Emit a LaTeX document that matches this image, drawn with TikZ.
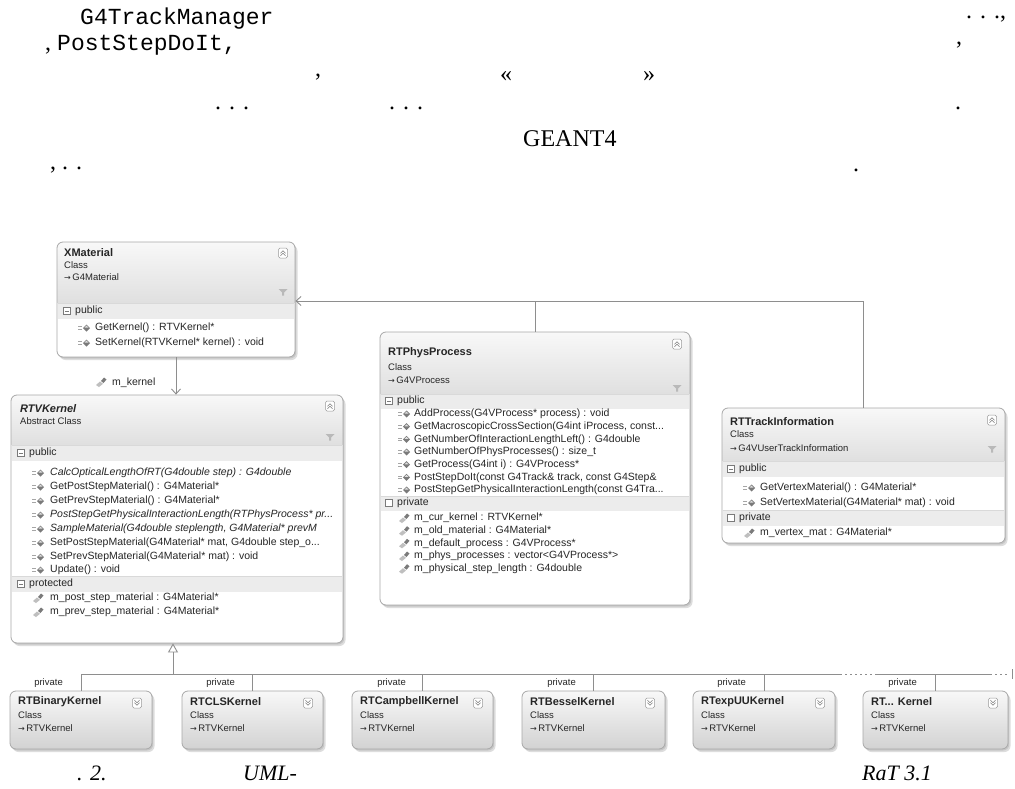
\documentclass[tikz,border=0pt]{standalone}
\usepackage{fontspec}
\setmainfont{Liberation Serif}
\setmonofont{Liberation Mono}
\newfontfamily\umlfont{Liberation Sans}
\newfontfamily\symfont{DejaVu Sans}
\usetikzlibrary{arrows.meta,fit}

\definecolor{bordergray}{HTML}{A8A8A8}
\definecolor{linegray}{HTML}{8E8E8E}
\definecolor{hdrtop}{HTML}{F8F8F8}
\definecolor{hdrbot}{HTML}{E0E0E0}
\definecolor{bandgray}{HTML}{ECECEC}
\definecolor{txt}{HTML}{262626}
\definecolor{shadowgray}{HTML}{C6C6C6}
\definecolor{leaftop}{HTML}{F8F8F8}
\definecolor{leafbot}{HTML}{D2D2D2}
\definecolor{icongray}{HTML}{7A7A7A}

\tikzset{
  conn/.style={draw=linegray, line width=0.9pt},
  utitle/.style={font=\umlfont\bfseries\fontsize{11}{13}\selectfont, text=txt, anchor=west, inner sep=0pt},
  utitleit/.style={font=\umlfont\bfseries\itshape\fontsize{11}{13}\selectfont, text=txt, anchor=west, inner sep=0pt},
  utext/.style={font=\umlfont\fontsize{10.5}{12}\selectfont, text=txt, anchor=west, inner sep=0pt},
  utextit/.style={font=\umlfont\itshape\fontsize{10.5}{12}\selectfont, text=txt, anchor=west, inner sep=0pt},
  usmall/.style={font=\umlfont\fontsize{9.5}{11}\selectfont, text=txt, anchor=west, inner sep=0pt},
  bodytext/.style={font=\fontsize{24}{28}\selectfont, anchor=west, inner sep=0pt, text=black},
  bodymono/.style={font=\ttfamily\fontsize{23}{28}\selectfont, anchor=west, inner sep=0pt, text=black},
  captext/.style={font=\itshape\fontsize{22}{26}\selectfont, anchor=west, inner sep=0pt, text=black},
}

\newcommand\inh{{\symfont\fontsize{8}{9}\selectfont\char"2192}\,}

% name, x1, y1, x2, y2, header bottom
\newcommand\umlclass[6]{%
  \fill[shadowgray!60, rounded corners=6pt] ({#2+2.5},{#3+3}) rectangle ({#4+2.5},{#5+3});
  \fill[shadowgray, rounded corners=6pt] ({#2+1.2},{#3+1.5}) rectangle ({#4+1.2},{#5+1.5});
  \begin{scope}
    \clip[rounded corners=6pt] (#2,#3) rectangle (#4,#5);
    \fill[white] (#2,#3) rectangle (#4,#5);
    \shade[top color=hdrtop, bottom color=hdrbot] (#2,#3) rectangle (#4,#6);
  \end{scope}
  \node[fit={(#2,#3) (#4,#5)}, inner sep=0pt, draw=bordergray, rounded corners=6pt, line width=0.8pt] (#1) {};
}
% name, x1, y1, x2, y2
\newcommand\umlleaf[5]{%
  \fill[shadowgray!60, rounded corners=6pt] ({#2+2.5},{#3+3}) rectangle ({#4+2.5},{#5+3});
  \fill[shadowgray, rounded corners=6pt] ({#2+1.2},{#3+1.5}) rectangle ({#4+1.2},{#5+1.5});
  \shade[top color=leaftop, bottom color=leafbot, rounded corners=6pt] (#2,#3) rectangle (#4,#5);
  \node[fit={(#2,#3) (#4,#5)}, inner sep=0pt, draw=bordergray, rounded corners=6pt, line width=0.8pt] (#1) {};
}
% x1, x2, y1, y2
\newcommand\umlband[4]{%
  \fill[bandgray] ({#1+0.8},#3) rectangle ({#2-0.8},#4);
  \draw[white!85!black, line width=0.4pt] ({#1+0.8},#3) -- ({#2-0.8},#3);
}
% section toggle: x, y, with minus (1) or not (0)
\newcommand\sectoggle[3]{%
  \draw[icongray, line width=0.5pt, fill=white] ({#1-3.5},{#2-3.5}) rectangle ({#1+3.5},{#2+3.5});
  \ifnum#3=1 \draw[icongray, line width=0.6pt] ({#1-2},#2) -- ({#1+2},#2);\fi
}
% method icon: left x, centre y
\newcommand\mthicon[2]{%
  \draw[gray!70, line width=0.6pt] (#1,{#2-1.3}) -- ({#1+4},{#2-1.3}) (#1,{#2+1.3}) -- ({#1+4},{#2+1.3});
  \fill[icongray] ({#1+5},#2) -- ({#1+8.5},{#2-3.5}) -- ({#1+12},#2) -- ({#1+8.5},{#2+3.5}) -- cycle;
  \fill[gray!25] ({#1+6.5},{#2-0.4}) -- ({#1+8.5},{#2-2.4}) -- ({#1+10.5},{#2-0.4}) -- cycle;
}
% field icon: left x, centre y
\newcommand\fldicon[2]{%
  \fill[gray!50] (#1,{#2+3}) -- ({#1+4},{#2-0.5}) -- ({#1+7},{#2+1.8}) -- ({#1+3},{#2+5}) -- cycle;
  \fill[icongray] ({#1+5},{#2-1}) -- ({#1+8},{#2-4.5}) -- ({#1+10.5},{#2-2.5}) -- ({#1+7.5},{#2+1}) -- cycle;
}
% collapse / expand icon: x, y, direction (1 up, -1 down)
\newcommand\collicon[3]{%
  \draw[gray!80, line width=0.5pt, rounded corners=1.5pt, fill=white] ({#1-4.5},{#2-5}) rectangle ({#1+4.5},{#2+5});
  \draw[icongray, line width=0.6pt] ({#1-2.5},{#2+(#3)*0.3}) -- (#1,{#2-(#3)*2.2}) -- ({#1+2.5},{#2+(#3)*0.3})
        ({#1-2.5},{#2+(#3)*2.8}) -- (#1,{#2+(#3)*0.3}) -- ({#1+2.5},{#2+(#3)*2.8});
}
% filter icon: x, y
\newcommand\filticon[2]{%
  \fill[gray!55] ({#1-4.5},{#2-3}) -- ({#1+4.5},{#2-3}) -- ({#1+1},{#2+0.5}) -- ({#1+1},{#2+3.5}) -- ({#1-1},{#2+3.5}) -- ({#1-1},{#2+0.5}) -- cycle;
}

\begin{document}
\begin{tikzpicture}[x=1pt,y=-1pt]
\useasboundingbox (0,0) rectangle (1015,789);
\fill[white] (0,0) rectangle (1015,789);

% ---------------- running text ----------------
\node[bodymono] (t1a) at (80,19) {G4TrackManager};
\node[bodytext] (t1b) at (966,19) {. . .,};
\node[bodytext] (t2a) at (45,45) {, {\ttfamily\fontsize{23}{28}\selectfont PostStepDoIt,}};
\node[bodytext] (t2b) at (956,45) {,};
\node[bodytext] (t3a) at (315,77) {,};
\node[bodytext] (t3b) at (500,77) {«};
\node[bodytext] (t3c) at (643,77) {»};
\node[bodytext] (t4a) at (215,108) {. . .};
\node[bodytext] (t4b) at (389,108) {. . .};
\node[bodytext] (t4c) at (955,108) {.};
\node[bodytext] (t5a) at (523,139) {GEANT4};
\node[bodytext] (t6a) at (50,170) {, . .};
\node[bodytext] (t6b) at (853,170) {.};

% ---------------- XMaterial ----------------
\umlclass{xmat}{57}{242}{295}{357}{302}
\umlband{57}{295}{303}{319}
\node[utitle] (xmatT) at (64,253) {XMaterial};
\node[usmall] (xmatS) at (64,265) {Class};
\node[usmall] (xmatB) at (64,277) {\inh G4Material};
\collicon{283}{253}{1}
\filticon{283}{292}
\sectoggle{67}{311}{1}
\node[utext] (xmatP) at (75,311) {public};
\mthicon{78}{328}
\node[utext] (xm1) at (95,328) {GetKernel() : RTVKernel*};
\mthicon{78}{343}
\node[utext] (xm2) at (95,343) {SetKernel(RTVKernel* kernel) : void};

% ---------------- RTVKernel ----------------
\umlclass{kern}{11}{395}{343}{643}{444}
\umlband{11}{343}{445}{461}
\umlband{11}{343}{576}{592}
\node[utitleit] (kernT) at (20,409) {RTVKernel};
\node[usmall] (kernS) at (20,421) {Abstract Class};
\collicon{330}{406}{1}
\filticon{330}{437}
\sectoggle{21}{453}{1}
\node[utext] (kernP) at (29,453) {public};
\mthicon{32}{473}\node[utextit] (km1) at (50,473) {CalcOpticalLengthOfRT(G4double step) : G4double};
\mthicon{32}{487}\node[utext] (km2) at (50,487) {GetPostStepMaterial() : G4Material*};
\mthicon{32}{501}\node[utext] (km3) at (50,501) {GetPrevStepMaterial() : G4Material*};
\mthicon{32}{515}\node[utextit] (km4) at (50,515) {PostStepGetPhysicalInteractionLength(RTPhysProcess* pr...};
\mthicon{32}{529}\node[utextit] (km5) at (50,529) {SampleMaterial(G4double steplength, G4Material* prevM};
\mthicon{32}{543}\node[utext] (km6) at (50,543) {SetPostStepMaterial(G4Material* mat, G4double step\_o...};
\mthicon{32}{557}\node[utext] (km7) at (50,557) {SetPrevStepMaterial(G4Material* mat) : void};
\mthicon{32}{570}\node[utext] (km8) at (50,570) {Update() : void};
\sectoggle{21}{584}{1}
\node[utext] (kernQ) at (29,584) {protected};
\fldicon{33}{598}\node[utext] (kf1) at (50,598) {m\_post\_step\_material : G4Material*};
\fldicon{33}{612}\node[utext] (kf2) at (50,612) {m\_prev\_step\_material : G4Material*};

% ---------------- RTPhysProcess ----------------
\umlclass{phys}{380}{332}{690}{605}{393}
\umlband{380}{690}{394}{409}
\umlband{380}{690}{496}{511}
\node[utitle] (physT) at (388,353) {RTPhysProcess};
\node[usmall] (physS) at (388,367) {Class};
\node[usmall] (physB) at (388,380) {\inh G4VProcess};
\collicon{677}{344}{1}
\filticon{677}{388}
\sectoggle{389}{401}{1}
\node[utext] (physP) at (397,401) {public};
\mthicon{398}{414}\node[utext] (pm1) at (414,414) {AddProcess(G4VProcess* process) : void};
\mthicon{398}{426.7}\node[utext] (pm2) at (414,426.7) {GetMacroscopicCrossSection(G4int iProcess, const...};
\mthicon{398}{439.3}\node[utext] (pm3) at (414,439.3) {GetNumberOfInteractionLengthLeft() : G4double};
\mthicon{398}{452}\node[utext] (pm4) at (414,452) {GetNumberOfPhysProcesses() : size\_t};
\mthicon{398}{464.7}\node[utext] (pm5) at (414,464.7) {GetProcess(G4int i) : G4VProcess*};
\mthicon{398}{477.3}\node[utext] (pm6) at (414,477.3) {PostStepDoIt(const G4Track\& track, const G4Step\&};
\mthicon{398}{490}\node[utext] (pm7) at (414,490) {PostStepGetPhysicalInteractionLength(const G4Tra...};
\sectoggle{389}{503}{0}
\node[utext] (physQ) at (397,503) {private};
\fldicon{399}{518}\node[utext] (pf1) at (414,518) {m\_cur\_kernel : RTVKernel*};
\fldicon{399}{530.7}\node[utext] (pf2) at (414,530.7) {m\_old\_material : G4Material*};
\fldicon{399}{543.3}\node[utext] (pf3) at (414,543.3) {m\_default\_process : G4VProcess*};
\fldicon{399}{556}\node[utext] (pf4) at (414,556) {m\_phys\_processes : vector<G4VProcess*>};
\fldicon{399}{568.7}\node[utext] (pf5) at (414,568.7) {m\_physical\_step\_length : G4double};

% ---------------- RTTrackInformation ----------------
\umlclass{trk}{722}{408}{1005}{543}{460}
\umlband{722}{1005}{461}{477}
\umlband{722}{1005}{510}{526}
\node[utitle] (trkT) at (730,422) {RTTrackInformation};
\node[usmall] (trkS) at (730,434) {Class};
\node[usmall] (trkB) at (730,448) {\inh G4VUserTrackInformation};
\collicon{992}{420}{1}
\filticon{992}{449}
\sectoggle{731}{469}{1}
\node[utext] (trkP) at (739,469) {public};
\mthicon{743}{488}\node[utext] (tm1) at (760,488) {GetVertexMaterial() : G4Material*};
\mthicon{743}{503}\node[utext] (tm2) at (760,503) {SetVertexMaterial(G4Material* mat) : void};
\sectoggle{731}{518}{0}
\node[utext] (trkQ) at (739,518) {private};
\fldicon{744}{533}\node[utext] (tf1) at (760,533) {m\_vertex\_mat : G4Material*};

% ---------------- derived kernels ----------------
\umlleaf{lf1}{10}{691}{152}{749}
\umlleaf{lf2}{182}{691}{323}{749}
\umlleaf{lf3}{352}{691}{493}{749}
\umlleaf{lf4}{522}{691}{665}{749}
\umlleaf{lf5}{693}{691}{835}{749}
\umlleaf{lf6}{863}{691}{1008}{749}
\node[utitle] (lf1T) at (18,702) {RTBinaryKernel};
\node[utitle] (lf2T) at (190,702) {RTCLSKernel};
\node[utitle] (lf3T) at (360,702) {RTCampbellKernel};
\node[utitle] (lf4T) at (530,702) {RTBesselKernel};
\node[utitle] (lf5T) at (701,702) {RTexpUUKernel};
\node[utitle] (lf6T) at (871,702) {RT... Kernel};
\foreach \n/\x in {1/18,2/190,3/360,4/530,5/701,6/871}{
  \node[usmall] (lf\n S) at (\x,715) {Class};
  \node[usmall] (lf\n B) at (\x,728) {\inh RTVKernel};
}
\collicon{137}{703}{-1}
\collicon{308}{703}{-1}
\collicon{478}{703}{-1}
\collicon{650}{703}{-1}
\collicon{820}{703}{-1}
\collicon{993}{703}{-1}

% ---------------- connectors ----------------
\coordinate (hline) at (532,301);
\draw[conn, -{Straight Barb[length=5pt,width=9pt]}] (trk.north) |- (xmat.east |- hline);
\draw[conn] (phys.north) -- (phys.north |- hline);
\draw[conn, -{Straight Barb[length=5pt,width=9pt]}] (xmat.south) -- (xmat.south |- kern.north);
\fldicon{96}{382}
\node[utext] (mk) at (112,383) {m\_kernel};

\coordinate (bus) at (173,674);
\coordinate (busend) at (1008,674);
\foreach \n in {1,...,6}{ \draw[conn] (lf\n.north) |- (bus); }
\draw[conn] (lf6.north |- bus) -- (busend);
\draw[white, line width=1.5pt] (840,674) -- (876,674) (990,674) -- (1008,674);
\draw[linegray, line width=0.8pt, dash pattern=on 2pt off 3pt] (840,674) -- (876,674) (990,674) -- (1008,674);
\draw[linegray, line width=0.8pt] (1012,669) -- (1012,679);
\draw[conn, -{Triangle[open, length=9pt, width=10pt, fill=white]}] (bus) -- (bus |- kern.south);

\foreach \n/\x in {1/80,2/252,3/423,4/593,5/763,6/934}{
  \node[usmall, anchor=east] (pv\n) at ({\x-17},683) {private};
}

% ---------------- caption ----------------
\node[captext] (c1) at (77,773) {. 2.};
\node[captext] (c2) at (243,773) {UML-};
\node[captext] (c3) at (862,773) {RaT 3.1};
\end{tikzpicture}
\end{document}
